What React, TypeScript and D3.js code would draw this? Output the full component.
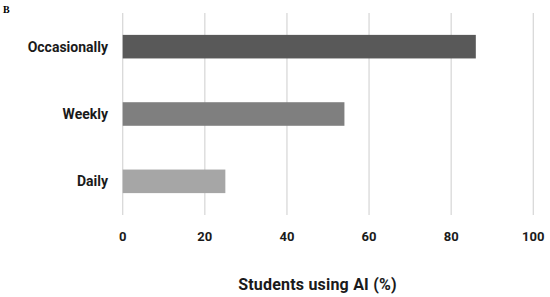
import React from "react";
import * as d3 from "d3";

const categories = ["Occasionally", "Weekly", "Daily"];
const values = [86, 54, 25];
const colors = ["#595959", "#7f7f7f", "#a6a6a6"];
const ticks = [0, 20, 40, 60, 80, 100];
const axisTitle = "Students using AI (%)";
const panelLabel = "B";

export default function App() {
  const W = 550, H = 297;
  const x = d3.scaleLinear().domain([0, 100]).range([122.7, 533.3]);
  const y = d3.scaleBand().domain(categories).range([13, 215]).paddingInner(0.65).paddingOuter(0.325);
  const font = "Roboto, 'Noto Sans', sans-serif";
  return (
    <svg width={W} height={H} style={{ position: "absolute", left: 0, top: 0 }}>
      <rect width={W} height={H} fill="#fff" />
      <text x={3} y={13} fontFamily="'Liberation Serif', serif" fontWeight="bold" fontSize={10}>{panelLabel}</text>
      {ticks.map(t => (
        <line key={t} x1={x(t)} x2={x(t)} y1={13} y2={215} stroke="#d9d9d9" strokeWidth={1.3} />
      ))}
      {categories.map((c, i) => (
        <rect key={c} x={x(0)} y={y(c)} width={x(values[i]) - x(0)} height={y.bandwidth()} fill={colors[i]} />
      ))}
      {categories.map(c => (
        <text key={c} x={108} y={y(c)! + y.bandwidth() / 2} dy="0.35em" textAnchor="end" fontFamily={font} fontWeight="bold" fontSize={14} fill="#1a1a1a">{c}</text>
      ))}
      {ticks.map(t => (
        <text key={t} x={x(t)} y={236} dy="0.35em" textAnchor="middle" fontFamily={font} fontWeight="bold" fontSize={13} fill="#1a1a1a">{t}</text>
      ))}
      <text x={317.5} y={290} textAnchor="middle" fontFamily={font} fontWeight="bold" fontSize={16} letterSpacing={0.2} fill="#1a1a1a">{axisTitle}</text>
    </svg>
  );
}
